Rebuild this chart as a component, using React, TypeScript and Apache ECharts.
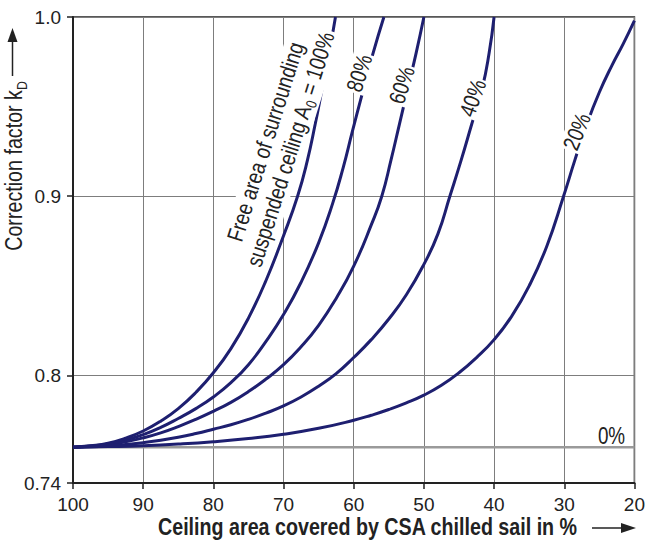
import React, { useEffect, useRef } from "react";
import * as echarts from "echarts";

// ---- data ----
const xTickValues = [100, 90, 80, 70, 60, 50, 40, 30, 20];
const yTickValues = [0.74, 0.8, 0.9, 1.0];
const yTickLabels = ["0.74", "0.8", "0.9", "1.0"];

// A0 = 100 %
const cov100 = [100, 97.5, 95, 92.5, 90, 87.5, 85, 82.5, 80, 77.5, 75, 72.5, 70, 68, 66.6, 65.5, 64.5, 63.5, 62.6];
const kd100 = [0.76, 0.7608, 0.7622, 0.765, 0.769, 0.7745, 0.7815, 0.7905, 0.8015, 0.815, 0.832, 0.853, 0.878, 0.9, 0.92, 0.94, 0.96, 0.98, 1.0];

// A0 = 80 %
const cov80 = [100, 97.5, 95, 92.5, 90, 87.5, 85, 82.5, 80, 77.5, 75, 72.5, 70, 67.5, 65, 63, 61.5, 60.2, 58.8, 57.3, 55.7];
const kd80 = [0.76, 0.7606, 0.7618, 0.764, 0.767, 0.771, 0.776, 0.7815, 0.788, 0.796, 0.806, 0.819, 0.834, 0.852, 0.874, 0.896, 0.916, 0.936, 0.957, 0.979, 1.0];

// A0 = 60 %
const cov60 = [100, 97.5, 95, 92.5, 90, 87.5, 85, 82.5, 80, 77.5, 75, 72.5, 70, 67.5, 65, 62.5, 60, 57.5, 56, 54.7, 53.5, 52.3, 51.1, 50];
const kd60 = [0.76, 0.7605, 0.7614, 0.763, 0.7652, 0.768, 0.7715, 0.7755, 0.78, 0.785, 0.791, 0.798, 0.806, 0.816, 0.828, 0.843, 0.861, 0.884, 0.9, 0.92, 0.94, 0.96, 0.98, 1.0];

// A0 = 40 %
const cov40 = [100, 97.5, 95, 92.5, 90, 87.5, 85, 82.5, 80, 77.5, 75, 72.5, 70, 67.5, 65, 62.5, 60, 57.5, 55, 52.5, 50, 48, 46.3, 44.7, 43.2, 41.7, 40.7, 40];
const kd40 = [0.76, 0.7602, 0.7607, 0.7615, 0.7625, 0.7638, 0.7655, 0.7676, 0.77, 0.7725, 0.7755, 0.779, 0.783, 0.788, 0.794, 0.801, 0.81, 0.82, 0.8315, 0.845, 0.862, 0.879, 0.9, 0.92, 0.94, 0.96, 0.98, 1.0];

// A0 = 20 %
const cov20 = [100, 95, 90, 85, 80, 75, 70, 65, 60, 57.5, 55, 52.5, 50, 47.5, 45, 42.5, 40, 37.5, 35, 32.5, 30.1, 28.5, 26.8, 25, 23.2, 21.6, 20];
const kd20 = [0.76, 0.7603, 0.7608, 0.7617, 0.763, 0.7648, 0.7672, 0.7705, 0.775, 0.7778, 0.781, 0.7847, 0.789, 0.7945, 0.8015, 0.81, 0.82, 0.833, 0.85, 0.872, 0.9, 0.92, 0.94, 0.958, 0.973, 0.985, 0.998];

// A0 = 0 %
const cov0 = [100, 20];
const kd0 = [0.76, 0.76];

const curveNames = ["100%", "80%", "60%", "40%", "20%"];
const xTitle = "Ceiling area covered by CSA chilled sail in %";
const yTitleMain = "Correction factor k";
const yTitleSub = "D";

const FONT = "'Liberation Sans', Arial, sans-serif";
const NAVY = "#1e1f70";
const INK = "#222222";
const GRID = "#7d7d7d";
const NARROW = 0.82;

const zip = (xs: number[], ys: number[]) => xs.map((x, i) => [x, ys[i]]);
const deg = (d: number) => (d * Math.PI) / 180;

export default function App() {
  const ref = useRef<HTMLDivElement>(null);

  useEffect(() => {
    if (!ref.current) return;
    const chart = echarts.init(ref.current, null, { renderer: "svg" });

    const curves = [
      zip(cov100, kd100),
      zip(cov80, kd80),
      zip(cov60, kd60),
      zip(cov40, kd40),
      zip(cov20, kd20),
    ];

    const curveLabel = (text: string, x: number, y: number, angle: number) => ({
      type: "text",
      x,
      y,
      rotation: deg(angle),
      scaleX: NARROW,
      z: 10,
      style: {
        text,
        fontFamily: FONT,
        fontSize: 23,
        fill: INK,
        align: "center",
        verticalAlign: "middle",
        backgroundColor: "#ffffff",
        padding: [0, 2, 0, 2],
      },
    });

    const option: any = {
      animation: false,
      grid: {
        left: 73,
        right: 8,
        top: 17,
        bottom: 61,
        show: true,
        borderColor: INK,
        borderWidth: 1.5,
      },
      xAxis: {
        type: "value",
        min: 20,
        max: 100,
        interval: 10,
        inverse: true,
        axisLine: { show: true, onZero: false, lineStyle: { color: INK, width: 2 } },
        axisTick: { show: true, length: 6, lineStyle: { color: INK, width: 1.5 } },
        axisLabel: {
          fontFamily: FONT,
          fontSize: 19,
          color: INK,
          margin: 12,
          customValues: xTickValues,
        },
        splitLine: { show: true, lineStyle: { color: GRID, width: 1 } },
      },
      yAxis: {
        type: "value",
        min: 0.74,
        max: 1.0,
        interval: 0.02,
        axisLine: { show: true, onZero: false, lineStyle: { color: INK, width: 2 } },
        axisTick: {
          show: true,
          length: 6,
          customValues: yTickValues,
          lineStyle: { color: INK, width: 1.5 },
        },
        axisLabel: {
          fontFamily: FONT,
          fontSize: 19,
          color: INK,
          margin: 12,
          customValues: yTickValues,
          formatter: (v: number) => {
            const i = yTickValues.findIndex((t) => Math.abs(t - v) < 1e-6);
            return i >= 0 ? yTickLabels[i] : "";
          },
        },
        splitLine: { show: true, lineStyle: { color: GRID, width: 1 } },
      },
      series: [
        {
          name: "0%",
          type: "line",
          data: zip(cov0, kd0),
          symbol: "none",
          lineStyle: { color: "#9a9a9a", width: 2.5 },
          z: 2,
        },
        ...curves.map((d, i) => ({
          name: curveNames[i],
          type: "line",
          data: d,
          smooth: 0.5,
          symbol: "none",
          lineStyle: { color: NAVY, width: 3 },
          z: 3,
        })),
      ],
      graphic: [
        // curve labels
        {
          type: "text",
          x: 279,
          y: 146,
          rotation: deg(72.5),
          scaleX: NARROW,
          z: 10,
          style: {
            text: "{n|Free area of surrounding}\n{n|suspended ceiling A}{s|0}{n| = 100%}",
            align: "center",
            verticalAlign: "middle",
            backgroundColor: "#ffffff",
            padding: [0, 3, 0, 3],
            rich: {
              n: { fontFamily: FONT, fontSize: 23, fill: INK, lineHeight: 26, verticalAlign: "top" },
              s: { fontFamily: FONT, fontSize: 15, fill: INK, lineHeight: 26, verticalAlign: "bottom" },
            },
          },
        },
        curveLabel("80%", 359, 73, 72),
        curveLabel("60%", 401.5, 85, 72),
        curveLabel("40%", 472.5, 98, 70),
        curveLabel("20%", 576.5, 131.5, 68),
        {
          type: "text",
          x: 611.5,
          y: 436,
          scaleX: NARROW,
          z: 10,
          style: {
            text: "0%",
            fontFamily: FONT,
            fontSize: 23,
            fill: INK,
            align: "center",
            verticalAlign: "middle",
          },
        },
        // y axis title + arrow
        {
          type: "text",
          x: 16,
          y: 166,
          rotation: deg(90),
          scaleX: NARROW,
          style: {
            text: `{m|${yTitleMain}}{s|${yTitleSub}}`,
            align: "center",
            verticalAlign: "middle",
            rich: {
              m: { fontFamily: FONT, fontSize: 24, fill: INK, lineHeight: 28, verticalAlign: "top" },
              s: { fontFamily: FONT, fontSize: 15, fill: INK, lineHeight: 28, verticalAlign: "bottom" },
            },
          },
        },
        {
          type: "line",
          shape: { x1: 12.5, y1: 76, x2: 12.5, y2: 40 },
          style: { stroke: INK, lineWidth: 1.5 },
        },
        {
          type: "polygon",
          shape: { points: [[12.5, 28], [7.5, 42], [17.5, 42]] },
          style: { fill: INK },
        },
        // x axis title + arrow
        {
          type: "text",
          x: 158,
          y: 527,
          scaleX: NARROW,
          style: {
            text: xTitle,
            fontFamily: FONT,
            fontSize: 24,
            fontWeight: "bold",
            fill: INK,
            align: "left",
            verticalAlign: "middle",
          },
        },
        {
          type: "line",
          shape: { x1: 592, y1: 528, x2: 624, y2: 528 },
          style: { stroke: INK, lineWidth: 1.5 },
        },
        {
          type: "polygon",
          shape: { points: [[636, 528], [621, 523], [621, 533]] },
          style: { fill: INK },
        },
      ],
    };

    chart.setOption(option);
    return () => chart.dispose();
  }, []);

  return (
    <div
      ref={ref}
      style={{ position: "absolute", left: 0, top: 0, width: 648, height: 544, background: "#fff" }}
    />
  );
}
